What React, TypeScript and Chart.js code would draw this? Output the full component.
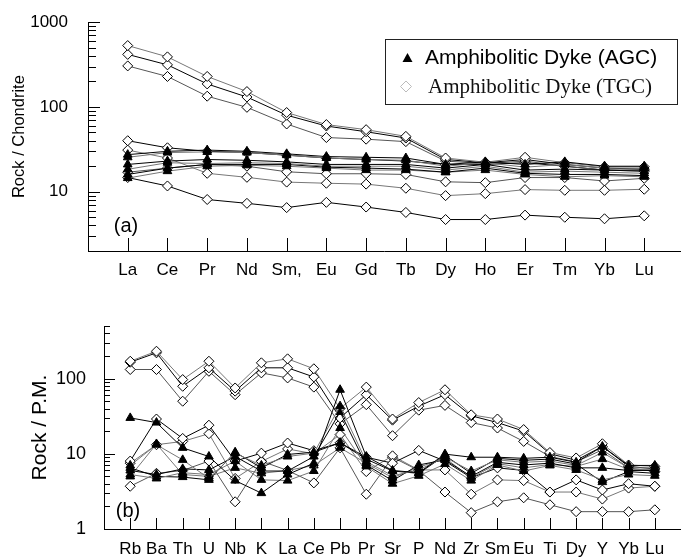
import React, { useEffect, useRef } from 'react';
import { Chart, registerables } from 'chart.js';

Chart.register(...registerables);

const SANS = "'Liberation Sans', Arial, sans-serif";
const SERIF = "'Liberation Serif', 'Times New Roman', serif";

// ---------- (a) Chondrite-normalised REE ----------
const reeCats = ['La', 'Ce', 'Pr', 'Nd', 'Sm,', 'Eu', 'Gd', 'Tb', 'Dy', 'Ho', 'Er', 'Tm', 'Yb', 'Lu'];
const reeMajorTicks = [10, 100, 1000];
const reeMinorTicks = [3, 4, 5, 6, 7, 8, 9, 20, 30, 40, 50, 60, 70, 80, 90, 200, 300, 400, 500, 600, 700, 800, 900];

const agcRee1 = [27.4, 30, 31, 30, 28, 26, 25.5, 25, 21, 22.5, 21, 22.5, 20, 20];
const agcRee2 = [25.5, 29, 29.5, 29, 27, 25, 24, 23.5, 20, 22, 19.5, 21, 19, 19];
const agcRee3 = [21, 23, 24, 23.5, 22.5, 21, 21, 21, 19, 21, 18, 18.5, 18, 17.5];
const agcRee4 = [18.4, 22, 21.5, 22, 21.5, 20, 20, 20, 18, 20, 17, 17.5, 17, 16.5];
const agcRee5 = [16, 19, 21, 21, 21, 19.5, 19, 18.5, 17, 19, 16.5, 16, 16, 15.5];
const agcRee6 = [14.5, 17.5, 20, 20.5, 20, 19, 18, 18, 17, 18, 16, 15, 15.5, 15];

const tgcRee1 = [530, 390, 229, 152, 86, 62, 54, 45, 25, 22.3, 25.5, 22, 19.7, 19.7];
const tgcRee2 = [417, 314, 187, 131, 80, 59.6, 51, 43, 24, 22, 24, 21, 19, 18.5];
const tgcRee3 = [305, 229, 134, 99, 63, 43.6, 41.7, 39, 23, 21.5, 23, 20, 18, 17.5];
const tgcRee4 = [40, 33, 30, 29, 27, 25, 24, 23, 21, 21, 22, 20, 18, 18];
const tgcRee5 = [31, 25, 16.5, 14.8, 13, 12.6, 12.3, 11, 9, 9.5, 10.6, 10.4, 10.4, 10.7];
const tgcRee6 = [17, 19, 21, 20, 17.2, 16.3, 16.3, 16, 13.1, 12.8, 14.7, 14.7, 13.4, 14.4];
const tgcRee7 = [14.7, 11.7, 8.1, 7.3, 6.5, 7.5, 6.6, 5.7, 4.7, 4.7, 5.3, 5.0, 4.8, 5.2];

// ---------- (b) Primitive-mantle-normalised spider ----------
const pmCats = ['Rb', 'Ba', 'Th', 'U', 'Nb', 'K', 'La', 'Ce', 'Pb', 'Pr', 'Sr', 'P', 'Nd', 'Zr', 'Sm', 'Eu', 'Ti', 'Dy', 'Y', 'Yb', 'Lu'];
const pmMajorTicks = [1, 10, 100];
const pmMinorTicks = [2, 3, 4, 5, 6, 7, 8, 9, 20, 30, 40, 50, 60, 70, 80, 90, 200, 300, 400, 500];

const agcPm1 = [30, 26, 12, 9.2, 4.4, 3.0, 5.3, 7.5, 71, 9.2, 6.0, 5.6, 9.9, 9.0, 9.0, 8.7, 9.0, 7.7, 12.5, 7.0, 7.0];
const agcPm2 = [7, 13.2, 8.3, 4.7, 10.2, 7, 9.2, 10.2, 43, 7.9, 5.1, 6.1, 9.0, 5.9, 8.3, 7.7, 8.0, 7.0, 10.4, 6.5, 6.5];
const agcPm3 = [6, 5.3, 6.3, 6.1, 9.2, 5.9, 5.9, 9.2, 36, 7.1, 4.4, 7.1, 8.3, 5.0, 7.7, 7.1, 7.5, 6.5, 6.5, 6.0, 6.0];
const agcPm4 = [5.3, 4.7, 5.6, 5.3, 8.0, 4.5, 4.4, 5.9, 22, 6.8, 4.0, 5.1, 7.3, 4.4, 7.1, 5.9, 7.0, 6.1, 4.5, 5.3, 5.1];
const agcPm5 = [6.5, 5.0, 4.9, 4.5, 10.5, 6.5, 9.8, 10.5, 14, 8.5, 5.9, 5.5, 9.5, 5.5, 8.7, 8.2, 8.5, 7.3, 4.2, 5.8, 5.5];
const agcPm6 = [5, 13.5, 5.3, 5.0, 6.5, 5.5, 6, 7, 12, 7.5, 4.8, 6.6, 8.8, 4.8, 7.4, 6.5, 7.2, 6.8, 8.5, 6.2, 6.2];

const tgcPm1 = [170, 231, 97, 170, 75, 162, 183, 135, 40, 77, 29, 48, 71, 33, 29, 21, 10.4, 8.8, 13.6, 7.1, 6.8];
const tgcPm2 = [165, 220, 79, 139, 68, 139, 139, 105, 30, 61, 28, 43, 61, 32, 26, 20, 10, 8.2, 12.5, 6.8, 6.3];
const tgcPm3 = [132, 132, 50, 125, 61, 119, 102, 77, 25, 45, 17.4, 38, 44, 26, 22, 14.6, 9.2, 7.8, 11.3, 6.5, 5.8];
const tgcPm4 = [8, 29, 16, 24, 8, 10.2, 13.9, 11, 14, 9, 7.5, 11.1, 8, 4.8, 6.5, 6, 3.1, 4.5, 3.3, 4, 3.7];
const tgcPm5 = [7.5, 13.2, 14.6, 18.5, 4.7, 7.9, 11.6, 10, 18, 5.8, 9.4, 6.1, 6.1, 2.9, 4.5, 4.4, 3.1, 3.1, 2.5, 3.5, 3.7];
const tgcPm6 = [3.7, 5.5, 6, 8, 2.3, 8, 6, 4.1, 12, 2.9, 9, 6, 3.1, 1.65, 2.3, 2.6, 2.1, 1.7, 1.7, 1.7, 1.8];

const agcLineColors = ['#000', '#777', '#000', '#777', '#000', '#777'];
const tgcLineColors = ['#777', '#000', '#555', '#000', '#777', '#555', '#000'];

function buildDatasets(agc: number[][], tgc: number[][]) {
  const a = agc.map((s, k) => ({
    label: 'Amphibolitic Dyke (AGC)',
    data: s.map((v, i) => ({ x: i + 1, y: v })),
    borderColor: agcLineColors[k % agcLineColors.length],
    borderWidth: 1,
    pointStyle: 'triangle',
    pointRadius: 5,
    pointBackgroundColor: '#000',
    pointBorderColor: '#000',
    pointBorderWidth: 1,
    tension: 0,
    fill: false,
  }));
  const t = tgc.map((s, k) => ({
    label: 'Amphibolitic Dyke (TGC)',
    data: s.map((v, i) => ({ x: i + 1, y: v })),
    borderColor: tgcLineColors[k % tgcLineColors.length],
    borderWidth: 1,
    pointStyle: 'rectRot',
    pointRadius: 5,
    pointBackgroundColor: '#fff',
    pointBorderColor: '#000',
    pointBorderWidth: 1,
    tension: 0,
    fill: false,
  }));
  return [...a, ...t];
}

function ticksPlugin(cats: string[], majors: number[], minors: number[], xLen: number, majLen: number, minLen: number, panel: string, dx: number, dy: number) {
  return {
    id: 'axisTicks',
    beforeDatasetsDraw(chart: any) {
      const { ctx, chartArea } = chart;
      const x = chart.scales.x;
      const y = chart.scales.y;
      ctx.save();
      ctx.strokeStyle = '#000';
      ctx.lineWidth = 1;
      ctx.beginPath();
      cats.forEach((_, i) => {
        const px = Math.round(x.getPixelForValue(i + 1)) + 0.5;
        ctx.moveTo(px, chartArea.bottom);
        ctx.lineTo(px, chartArea.bottom - xLen);
      });
      majors.forEach((v) => {
        const py = Math.round(y.getPixelForValue(v)) + 0.5;
        ctx.moveTo(chartArea.left, py);
        ctx.lineTo(chartArea.left + majLen, py);
      });
      minors.forEach((v) => {
        const py = Math.round(y.getPixelForValue(v)) + 0.5;
        ctx.moveTo(chartArea.left, py);
        ctx.lineTo(chartArea.left + minLen, py);
      });
      ctx.stroke();
      ctx.fillStyle = '#000';
      ctx.font = `20px ${SANS}`;
      ctx.textAlign = 'center';
      ctx.textBaseline = 'middle';
      ctx.fillText(panel, chartArea.left + dx, chartArea.bottom - dy);
      ctx.restore();
    },
  };
}

const legendPlugin = {
  id: 'boxLegend',
  afterDraw(chart: any) {
    const { ctx } = chart;
    ctx.save();
    ctx.fillStyle = '#fff';
    ctx.fillRect(386, 40, 291, 64);
    ctx.strokeStyle = '#222';
    ctx.lineWidth = 1;
    ctx.strokeRect(385.5, 39.5, 292, 65);
    // triangle marker
    ctx.fillStyle = '#000';
    ctx.beginPath();
    ctx.moveTo(407.5, 53);
    ctx.lineTo(412.5, 62);
    ctx.lineTo(402.5, 62);
    ctx.closePath();
    ctx.fill();
    // diamond marker
    ctx.strokeStyle = '#bbb';
    ctx.beginPath();
    ctx.moveTo(406, 81);
    ctx.lineTo(411.5, 86.5);
    ctx.lineTo(406, 92);
    ctx.lineTo(400.5, 86.5);
    ctx.closePath();
    ctx.stroke();
    ctx.textAlign = 'left';
    ctx.textBaseline = 'middle';
    ctx.fillStyle = '#000';
    ctx.font = `21px ${SANS}`;
    ctx.fillText('Amphibolitic Dyke (AGC)', 425, 58);
    ctx.fillStyle = '#111';
    ctx.font = `21px ${SERIF}`;
    ctx.fillText('Amphibolitic Dyke (TGC)', 428, 87);
    ctx.restore();
  },
};

function makeOptions(cats: string[], xMax: number, yMin: number, yMax: number, majors: number[], yWidth: number, xHeight: number, padTop: number, title: string, titleSize: number, titlePad: number, yFont: number, yPad: number, xPad: number) {
  return {
    animation: false,
    responsive: false,
    maintainAspectRatio: false,
    layout: { padding: { top: padTop, left: 0, right: 0, bottom: 0 } },
    plugins: { legend: { display: false }, tooltip: { enabled: false } },
    elements: { line: { tension: 0 } },
    scales: {
      x: {
        type: 'linear',
        min: 0,
        max: xMax,
        grid: { display: false },
        border: { display: true, color: '#000', width: 1 },
        afterBuildTicks: (s: any) => {
          s.ticks = cats.map((_, i) => ({ value: i + 1 }));
        },
        afterFit: (s: any) => {
          s.height = xHeight;
        },
        ticks: {
          autoSkip: false,
          maxRotation: 0,
          minRotation: 0,
          padding: xPad,
          color: '#000',
          font: { family: SANS, size: 17 },
          callback: (v: any) => cats[Math.round(v) - 1] ?? '',
        },
      },
      y: {
        type: 'logarithmic',
        min: yMin,
        max: yMax,
        grid: { display: false },
        border: { display: true, color: '#000', width: 1 },
        afterBuildTicks: (s: any) => {
          s.ticks = majors.map((v) => ({ value: v }));
        },
        afterFit: (s: any) => {
          s.width = yWidth;
        },
        ticks: {
          autoSkip: false,
          padding: yPad,
          color: '#000',
          font: { family: SANS, size: yFont },
          callback: (v: any) => String(v),
        },
        title: {
          display: true,
          text: title,
          color: '#000',
          font: { family: SANS, size: titleSize },
          padding: { top: titlePad, bottom: 0 },
        },
      },
    },
  } as any;
}

export default function App() {
  const topRef = useRef<HTMLCanvasElement | null>(null);
  const botRef = useRef<HTMLCanvasElement | null>(null);

  useEffect(() => {
    const top = new Chart(topRef.current as HTMLCanvasElement, {
      type: 'line',
      data: {
        datasets: buildDatasets(
          [agcRee1, agcRee2, agcRee3, agcRee4, agcRee5, agcRee6],
          [tgcRee1, tgcRee2, tgcRee3, tgcRee4, tgcRee5, tgcRee6, tgcRee7]
        ) as any,
      },
      options: makeOptions(reeCats, 14.9, 2, 1000, reeMajorTicks, 88, 39, 18, 'Rock / Chondrite', 16.5, 10, 17, 12, 1),
      plugins: [ticksPlugin(reeCats, reeMajorTicks, reeMinorTicks, 13, 12, 8, '(a)', 38, 25), legendPlugin],
    });
    const bot = new Chart(botRef.current as HTMLCanvasElement, {
      type: 'line',
      data: {
        datasets: buildDatasets(
          [agcPm1, agcPm2, agcPm3, agcPm4, agcPm5, agcPm6],
          [tgcPm1, tgcPm2, tgcPm3, tgcPm4, tgcPm5, tgcPm6]
        ) as any,
      },
      options: makeOptions(pmCats, 21.96, 1, 500, pmMajorTicks, 104, 29, 36, 'Rock / P.M.', 21, 28, 18, 10, 2),
      plugins: [ticksPlugin(pmCats, pmMajorTicks, pmMinorTicks, 11, 11, 6, '(b)', 24, 18)],
    });
    return () => {
      top.destroy();
      bot.destroy();
    };
  }, []);

  return (
    <div style={{ position: 'absolute', left: 0, top: 0, width: 686, height: 558, background: '#fff', overflow: 'hidden' }}>
      <canvas ref={topRef} width={686} height={290} style={{ position: 'absolute', left: 0, top: 0 }} />
      <canvas ref={botRef} width={686} height={268} style={{ position: 'absolute', left: 0, top: 290 }} />
    </div>
  );
}
